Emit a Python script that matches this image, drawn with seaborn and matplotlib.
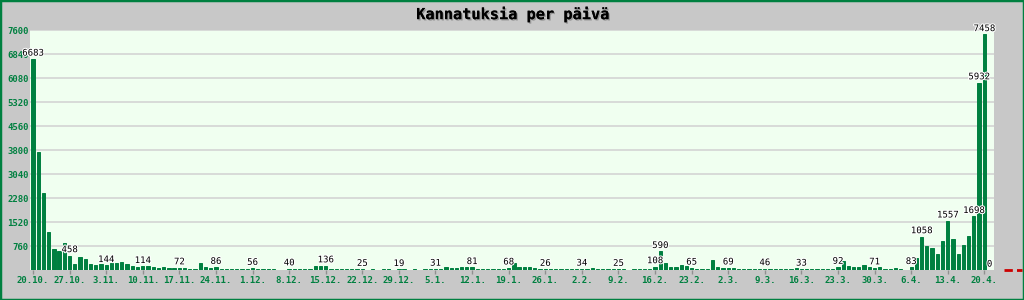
import matplotlib
matplotlib.use("Agg")
import numpy as np
import pandas as pd
import matplotlib.pyplot as plt
import seaborn as sns
from matplotlib import patheffects as pe
from matplotlib.lines import Line2D
from matplotlib.patches import Rectangle

TITLE = "Kannatuksia per päivä"
START_DATE = "2024-10-20"

# daily values, 20.10. .. 21.4.
VALUES = [
    6683, 3740, 2450, 1200, 680, 615, 840, 458, 200, 420,
    355, 205, 165, 205, 144, 230, 210, 260, 205, 135,
    110, 114, 135, 105, 55, 80, 78, 76, 72, 70,
    42, 45, 232, 105, 74, 86, 40, 38, 36, 38,
    35, 37, 56, 20, 22, 42, 44, 15, 14, 40,
    16, 42, 44, 40, 137, 140, 136, 44, 45, 16,
    45, 43, 46, 25, 15, 17, 14, 16, 18, 15,
    19, 16, 14, 17, 15, 18, 16, 31, 18, 86,
    64, 60, 86, 86, 81, 40, 38, 42, 40, 38,
    44, 68, 225, 96, 94, 98, 75, 40, 26, 40,
    38, 18, 20, 40, 42, 34, 40, 64, 18, 16,
    20, 17, 25, 18, 15, 17, 20, 16, 18, 108,
    590, 232, 80, 82, 165, 138, 65, 45, 44, 46,
    330, 100, 78, 69, 70, 44, 42, 45, 40, 43,
    46, 18, 40, 42, 40, 41, 64, 33, 40, 38,
    18, 20, 40, 45, 92, 289, 128, 107, 105, 165,
    105, 71, 100, 45, 46, 74, 45, 15, 83, 388,
    1058, 770, 685, 492, 910, 1557, 974, 492, 802, 1091,
    1698, 5932, 7458, 0,
]

TICK_LABELS = [
    "20.10.", "27.10.", "3.11.", "10.11.", "17.11.", "24.11.", "1.12.",
    "8.12.", "15.12.", "22.12.", "29.12.", "5.1.", "12.1.", "19.1.",
    "26.1.", "2.2.", "9.2.", "16.2.", "23.2.", "2.3.", "9.3.", "16.3.",
    "23.3.", "30.3.", "6.4.", "13.4.", "20.4.",
]

LABELED_DAYS = TICK_LABELS + ["17.2.", "8.4.", "18.4.", "19.4.", "21.4."]

Y_TICKS = [760, 1520, 2280, 3040, 3800, 4560, 5320, 6080, 6840, 7600]

GREEN = "#008040"

dates = pd.date_range(START_DATE, periods=len(VALUES), freq="D")
day_labels = [f"{d.day}.{d.month}." for d in dates]
df = pd.DataFrame({"day": day_labels, "value": VALUES})

fig = plt.figure(figsize=(10.24, 3.0), dpi=100, facecolor="#c8c8c8")
ax = fig.add_axes([30 / 1024, 0.1, 964 / 1024, 0.8])
ax.set_facecolor("#f0fff0")

sns.barplot(data=df, x="day", y="value", order=day_labels, color=GREEN,
            saturation=1, width=0.62, ax=ax, zorder=3,
            edgecolor=GREEN, linewidth=0.7)

ax.set_xlim(-0.57, 183.85)
ax.set_ylim(0, 7600)
ax.set_xlabel("")
ax.set_ylabel("")

mono = "DejaVu Sans Mono"
ax.set_yticks(Y_TICKS)
ax.set_yticklabels([str(v) for v in Y_TICKS], family=mono, fontsize=6.5,
                   fontweight="bold", color=GREEN)
ax.tick_params(axis="y", length=0, pad=1)

pos = [day_labels.index(t) for t in TICK_LABELS]
ax.set_xticks(pos)
ax.set_xticklabels(TICK_LABELS, family=mono, fontsize=6.5,
                   fontweight="bold", color=GREEN)
ax.tick_params(axis="x", length=3, width=1, color="#909090", pad=1.5)

ax.yaxis.grid(True, color="#d4d4d4", linewidth=1.2, zorder=0)
ax.xaxis.grid(False)
ax.set_axisbelow(True)
for s in ax.spines.values():
    s.set_visible(False)

halo = [pe.withStroke(linewidth=1.5, foreground="white")]
for lab in LABELED_DAYS:
    i = day_labels.index(lab)
    v = VALUES[i]
    ax.annotate(str(v), (i, v), xytext=(0, 1), textcoords="offset points",
                ha="center", va="bottom", family=mono, fontsize=6.5,
                color="black", path_effects=halo, zorder=5,
                annotation_clip=False)

fig.text(0.5, 0.953, TITLE, ha="center", va="center", family=mono,
         fontsize=11, fontweight="bold", color="black",
         path_effects=[pe.withSimplePatchShadow(offset=(1, -1),
                                                shadow_rgbFace="#808080",
                                                alpha=0.7), pe.Normal()])

# red dashed marker in the right margin
fig.add_artist(Line2D([1004 / 1024, 1022 / 1024], [0.1, 0.1], color="#cc0000",
                      linewidth=2, linestyle=(0, (3, 1.5))))

fig.add_artist(Rectangle((0, 0), 1, 1, transform=fig.transFigure, fill=False,
                         edgecolor=GREEN, linewidth=2.5))

fig.savefig("out.png", dpi=100, facecolor=fig.get_facecolor())
